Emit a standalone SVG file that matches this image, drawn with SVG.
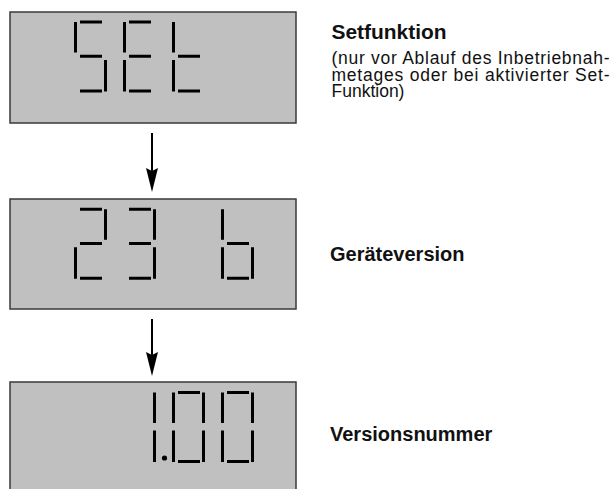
<svg xmlns="http://www.w3.org/2000/svg" width="616" height="489" viewBox="0 0 616 489">
<style>
.box{fill:#c0c0c0;stroke:#3a3a3a;stroke-width:1.5}
.seg{stroke:#000;stroke-width:3;fill:none;stroke-linecap:butt}
.title{font-family:"Liberation Sans",Arial,sans-serif;font-weight:bold;font-size:20px;fill:#111}
.body{font-family:"Liberation Sans",Arial,sans-serif;font-size:17.5px;fill:#111}
.conn{stroke:#000;stroke-width:2;fill:none}
</style>
<defs>
<marker id="ah" markerUnits="userSpaceOnUse" markerWidth="26" markerHeight="14" refX="12" refY="6" orient="auto">
<path d="M0,0 L3,6 L0,12 L24,6 z" fill="#000"/>
</marker>
</defs>
<g id="connectors">
<line class="conn" x1="152" y1="133" x2="152" y2="180" marker-end="url(#ah)"/>
<line class="conn" x1="152" y1="319" x2="152" y2="364" marker-end="url(#ah)"/>
</g>
<g id="display1">
<rect class="box" x="10" y="12" width="286" height="111"/>
<path class="seg" d="M80,22H102 M75.5,22V52.5 M80,56.2H102 M105.5,60V91.5 M80,91H102"/>
<path class="seg" d="M129,22H151 M124.5,22V52.5 M129,56.2H151 M124.5,60V91.5 M129,91H151"/>
<path class="seg" d="M173.5,22V52.5 M178,56.2H200 M173.5,60V91.5 M178,91H200"/>
</g>
<g id="label1">
<text class="title" x="331.5" y="38.5" textLength="115" lengthAdjust="spacingAndGlyphs">Setfunktion</text>
<text class="body"><tspan x="331.5" y="64" textLength="278" lengthAdjust="spacing">(nur vor Ablauf des Inbetriebnah-</tspan><tspan x="331.5" y="80.5" textLength="278" lengthAdjust="spacing">metages oder bei aktivierter Set-</tspan><tspan x="331.5" y="97">Funktion)</tspan></text>
</g>
<g id="display2">
<rect class="box" x="10" y="199" width="286" height="110"/>
<path class="seg" d="M80,209.3H102 M105.5,209.3V239.8 M80,243.5H102 M75.5,247.3V278.8 M80,278.3H102"/>
<path class="seg" d="M129,209.3H151 M154.5,209.3V239.8 M129,243.5H151 M154.5,247.3V278.8 M129,278.3H151"/>
<path class="seg" d="M222.5,209.3V239.8 M227,243.5H249 M222.5,247.3V278.8 M252.5,247.3V278.8 M227,278.3H249"/>
</g>
<g id="label2">
<text class="title" x="330" y="260.5">Geräteversion</text>
</g>
<g id="display3">
<rect class="box" x="10" y="382" width="286" height="115"/>
<path class="seg" d="M154.5,392.5V423 M154.5,430.5V462"/>
<circle cx="164.5" cy="458" r="2.6" fill="#000"/>
<path class="seg" d="M178,392.5H200 M203.5,392.5V423 M203.5,430.5V462 M178,461.5H200 M173.5,430.5V462 M173.5,392.5V423"/>
<path class="seg" d="M227,392.5H249 M252.5,392.5V423 M252.5,430.5V462 M227,461.5H249 M222.5,430.5V462 M222.5,392.5V423"/>
</g>
<g id="label3">
<text class="title" x="330" y="441">Versionsnummer</text>
</g>
</svg>
